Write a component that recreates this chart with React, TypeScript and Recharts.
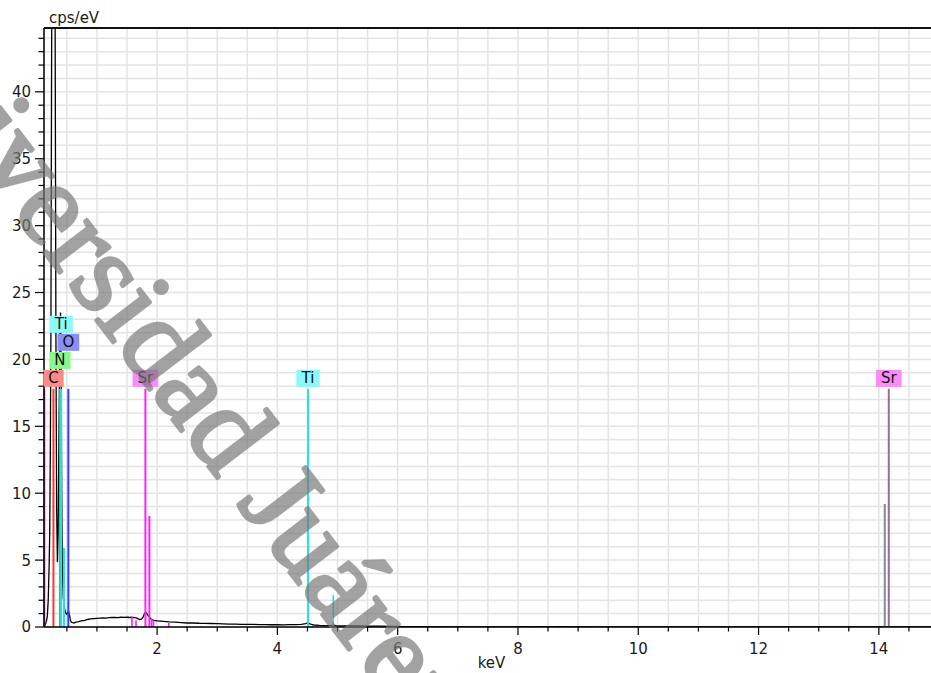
import React from 'react';
import {
  ComposedChart,
  Line,
  XAxis,
  YAxis,
  CartesianGrid,
  ReferenceLine,
  ReferenceDot,
} from 'recharts';

// ---------- DATA ----------
// EDX spectrum (energy in keV, intensity in cps/eV)
const spectrumKeV = [
  0.12, 0.14, 0.16, 0.175, 0.19, 0.205, 0.215, 0.225, 0.235, 0.245, 0.26, 0.275, 0.29, 0.305, 0.318, 0.33,
  0.343, 0.355, 0.37, 0.385, 0.395, 0.405, 0.415, 0.425, 0.44, 0.46, 0.48, 0.5, 0.515, 0.53, 0.545, 0.56,
  0.575, 0.6, 0.62, 0.65, 0.68, 0.71, 0.74, 0.77, 0.8, 0.83, 0.86, 0.9, 0.95, 1.0, 1.05, 1.1, 1.15, 1.2,
  1.25, 1.3, 1.35, 1.4, 1.45, 1.5, 1.55, 1.6, 1.65, 1.68, 1.71, 1.74, 1.77, 1.79, 1.81, 1.83, 1.85, 1.88,
  1.91, 1.95, 2.0, 2.1, 2.2, 2.3, 2.4, 2.5, 2.6, 2.7, 2.8, 2.9, 3.0, 3.1, 3.2, 3.3, 3.4, 3.5, 3.6, 3.7,
  3.8, 3.9, 4.0, 4.1, 4.2, 4.3, 4.4, 4.47, 4.51, 4.55, 4.6, 4.7, 4.8, 4.9, 4.93, 4.97, 5.1, 5.3, 5.5,
  5.7, 5.9, 6.1, 6.4, 6.8, 7.2, 7.6, 8.0, 8.1, 8.2, 8.4, 8.5, 8.7, 8.9, 9.0, 9.2, 9.4, 10.0, 12.0, 14.9,
];
const spectrumCps = [
  0.05, 0.15, 0.45, 0.8, 2.0, 4.5, 7, 13, 22, 40, 62, 72, 66, 45, 22, 9,
  4.85, 7, 15, 22, 23.5, 19, 10, 4.5, 2.2, 1.4, 1.05, 0.95, 1.1, 1.15, 0.85, 0.5,
  0.35, 0.32, 0.3, 0.36, 0.38, 0.42, 0.45, 0.48, 0.5, 0.55, 0.58, 0.6, 0.62, 0.64, 0.66, 0.68, 0.67, 0.7,
  0.71, 0.72, 0.7, 0.73, 0.72, 0.73, 0.71, 0.72, 0.68, 0.62, 0.55, 0.58, 0.75, 1.0, 1.1, 1.0, 0.85, 0.7,
  0.55, 0.5, 0.45, 0.42, 0.38, 0.36, 0.33, 0.3, 0.3, 0.28, 0.27, 0.26, 0.25, 0.24, 0.22, 0.22, 0.2, 0.2, 0.19, 0.18,
  0.18, 0.17, 0.17, 0.16, 0.17, 0.18, 0.2, 0.25, 0.32, 0.22, 0.15, 0.12, 0.11, 0.12, 0.16, 0.11, 0.09, 0.08, 0.07,
  0.06, 0.04, 0.03, 0.02, 0.01, 0.01, 0.0, 0.01, 0.03, 0.01, 0.03, 0.01, 0.03, 0.01, 0.03, 0.01, 0.0, 0.0, 0.0, 0.0,
];

// Element marker lines
const markerElements = ['Sr', 'C', 'N', 'Ti', 'Ti', 'O', 'Sr', 'Sr', 'Sr', 'Sr', 'Sr', 'Sr', 'Sr', 'Ti', 'Ti', 'Sr', 'Sr'];
const markerKeV = [0.125, 0.277, 0.385, 0.405, 0.452, 0.525, 1.582, 1.65, 1.806, 1.872, 1.91, 1.94, 2.196, 4.51, 4.93, 14.098, 14.165];
const markerCps = [17.8, 17.8, 17.8, 17.8, 5.9, 17.8, 0.8, 0.5, 17.8, 8.3, 0.6, 0.5, 0.3, 17.8, 2.4, 9.2, 17.8];

// Element labels (placed on top of their main line)
const labelElements = ['C', 'N', 'O', 'Ti', 'Ti', 'Sr', 'Sr'];
const labelKeV = [0.277, 0.385, 0.525, 0.405, 4.51, 1.806, 14.165];
const labelCps = [17.8, 17.8, 17.8, 17.8, 17.8, 17.8, 17.8];

// Axis ticks
const xTicks = [0.5, 1, 1.5, 2, 2.5, 3, 3.5, 4, 4.5, 5, 5.5, 6, 6.5, 7, 7.5, 8, 8.5, 9, 9.5, 10, 10.5, 11, 11.5, 12, 12.5, 13, 13.5, 14, 14.5];
const xLabeledTicks = [2, 4, 6, 8, 10, 12, 14];
const yTicks = [0, 1, 2, 3, 4, 5, 6, 7, 8, 9, 10, 11, 12, 13, 14, 15, 16, 17, 18, 19, 20, 21, 22, 23, 24, 25, 26, 27, 28, 29, 30, 31, 32, 33, 34, 35, 36, 37, 38, 39, 40, 41, 42, 43, 44];
const yLabeledTicks = [0, 5, 10, 15, 20, 25, 30, 35, 40];

const X_MIN = 0.12;
const X_MAX = 15.0;
const Y_MAX = 44.77;

// ---------- STYLE / LAYOUT ----------
const FONT = '"DejaVu Sans", Verdana, sans-serif';
const CHART_W = 940;
const CHART_H = 673;
const MARGIN = { top: 28, right: 1, bottom: 0, left: 0 };
const Y_AXIS_W = 44;
const X_AXIS_H = 46;

const lineColor: Record<string, string> = {
  C: '#ff3333',
  N: '#22cc77',
  O: '#3b3bff',
  Ti: '#22e3e3',
  Sr: '#ff1fff',
};
const lineColorHighShell: Record<string, string> = {
  Sr: '#9a6a9a',
};
const labelFill: Record<string, string> = {
  C: '#ff8a8a',
  N: '#8cf58c',
  O: '#8c8cf5',
  Ti: '#8cf8f8',
  Sr: '#f88cf8',
};

const charW: Record<string, number> = { C: 0.698, N: 0.748, O: 0.787, T: 0.611, i: 0.278, S: 0.635, r: 0.411 };
const LABEL_FS = 15;
const textWidth = (s: string) => s.split('').reduce((a, c) => a + (charW[c] ?? 0.65) * LABEL_FS, 0);
const labelBoxW = (s: string) => textWidth(s) + 10;
const LABEL_H = 17;
const LABEL_STEP = 18;

// greedy stacking of overlapping labels
const PLOT_W = CHART_W - Y_AXIS_W - MARGIN.right - MARGIN.left;
const pxPerKeV = PLOT_W / (X_MAX - X_MIN);
const labelLevels: number[] = (() => {
  const placed: { l: number; r: number; level: number }[] = [];
  return labelElements.map((el, i) => {
    const c = labelKeV[i] * pxPerKeV;
    const w = labelBoxW(el);
    const l = c - w / 2;
    const r = c + w / 2;
    let level = 0;
    while (placed.some((p) => p.level === level && p.l < r && l < p.r)) level++;
    placed.push({ l, r, level });
    return level;
  });
})();

const colorFor = (el: string, keV: number) =>
  keV > 10 && lineColorHighShell[el] ? (keV < labelKeV[labelKeV.length - 1] ? '#8a8a8a' : lineColorHighShell[el]) : lineColor[el];

const spectrumData = spectrumKeV.map((k, i) => ({ keV: k, cps: spectrumCps[i] }));

const YTick = (props: any) => {
  const { x, y, payload } = props;
  const v = payload.value as number;
  const major = yLabeledTicks.includes(v);
  return (
    <g>
      <line x1={x - (major ? 9 : 5.5)} x2={x} y1={y} y2={y} stroke="#000" strokeWidth={1.2} />
      {major && (
        <text x={x - 13} y={y + 5.4} textAnchor="end" fontSize={15} fontFamily={FONT} fill="#1a1a1a">
          {v}
        </text>
      )}
    </g>
  );
};

const XTick = (props: any) => {
  const { x, y, payload } = props;
  const v = payload.value as number;
  const major = xLabeledTicks.includes(v);
  return (
    <g>
      <line x1={x} x2={x} y1={y} y2={y + (major ? 8 : 4.5)} stroke="#000" strokeWidth={1.2} />
      {major && (
        <text x={x} y={y + 27} textAnchor="middle" fontSize={15} fontFamily={FONT} fill="#1a1a1a">
          {v}
        </text>
      )}
    </g>
  );
};

const LabelBox = ({ cx, cy, text, level }: any) => {
  if (cx == null || cy == null) return null;
  const w = labelBoxW(text);
  const bottom = cy - 2 - level * LABEL_STEP;
  return (
    <g>
      <rect x={cx - w / 2} y={bottom - LABEL_H} width={w} height={LABEL_H} fill={labelFill[text]} />
      <text x={cx} y={bottom - 3.6} textAnchor="middle" fontSize={LABEL_FS} fontFamily={FONT} fill="#111">
        {text}
      </text>
    </g>
  );
};

const YUnit = (props: any) => {
  const vb = props.viewBox || {};
  return (
    <text x={(vb.x ?? 0) + (vb.width ?? Y_AXIS_W) + 5} y={(vb.y ?? MARGIN.top) - 5} fontSize={15} fontFamily={FONT} fill="#1a1a1a">
      cps/eV
    </text>
  );
};

export default function App() {
  return (
    <div style={{ position: 'absolute', left: 0, top: 0, width: 931, height: 673, overflow: 'hidden', background: '#fff' }}>
      <ComposedChart width={CHART_W} height={CHART_H} data={spectrumData} margin={MARGIN}>
        <CartesianGrid stroke="#e4e4e4" strokeWidth={1.5} />
        <XAxis
          dataKey="keV"
          type="number"
          domain={[X_MIN, X_MAX]}
          allowDataOverflow
          ticks={xTicks}
          interval={0}
          tick={<XTick />}
          tickLine={false}
          tickSize={0}
          tickMargin={0}
          height={X_AXIS_H}
          axisLine={{ stroke: '#000', strokeWidth: 1.5 }}
          label={{ value: 'keV', position: 'insideBottom', offset: 5, fontSize: 15, fontFamily: FONT, fill: '#1a1a1a' }}
        />
        <YAxis
          type="number"
          domain={[0, Y_MAX]}
          allowDataOverflow
          ticks={yTicks}
          interval={0}
          tick={<YTick />}
          tickLine={false}
          tickSize={0}
          tickMargin={0}
          width={Y_AXIS_W}
          axisLine={{ stroke: '#000', strokeWidth: 1.5 }}
          label={{ content: <YUnit /> }}
        />
        <ReferenceLine y={Y_MAX} stroke="#111" strokeWidth={2} />
        <Line
          dataKey="cps"
          type="linear"
          stroke="#000"
          strokeWidth={1.3}
          dot={false}
          isAnimationActive={false}
        />
        {markerKeV.map((k, i) => (
          <ReferenceLine
            key={`m${i}`}
            segment={[
              { x: k, y: 0 },
              { x: k, y: markerCps[i] },
            ]}
            stroke={colorFor(markerElements[i], k)}
            strokeWidth={markerCps[i] > 5 ? 2 : 1.6}
          />
        ))}
        {labelElements.map((el, i) => (
          <ReferenceDot
            key={`l${i}`}
            x={labelKeV[i]}
            y={labelCps[i]}
            r={0}
            shape={(p: any) => <LabelBox cx={p.cx} cy={p.cy} text={el} level={labelLevels[i]} />}
          />
        ))}
      </ComposedChart>
      <svg width={931} height={673} style={{ position: 'absolute', left: 0, top: 0, pointerEvents: 'none' }}>
        <text
          x={-133}
          y={22}
          transform="rotate(52.5 -133 22)"
          fontFamily='"Liberation Serif", "Times New Roman", serif'
          fontSize={118}
          fill="#777"
          stroke="#777"
          strokeWidth={3.5}
          strokeLinejoin="round"
          opacity={0.68}
        >
          Universidad Juárez del Estado de Durango
        </text>
      </svg>
    </div>
  );
}
